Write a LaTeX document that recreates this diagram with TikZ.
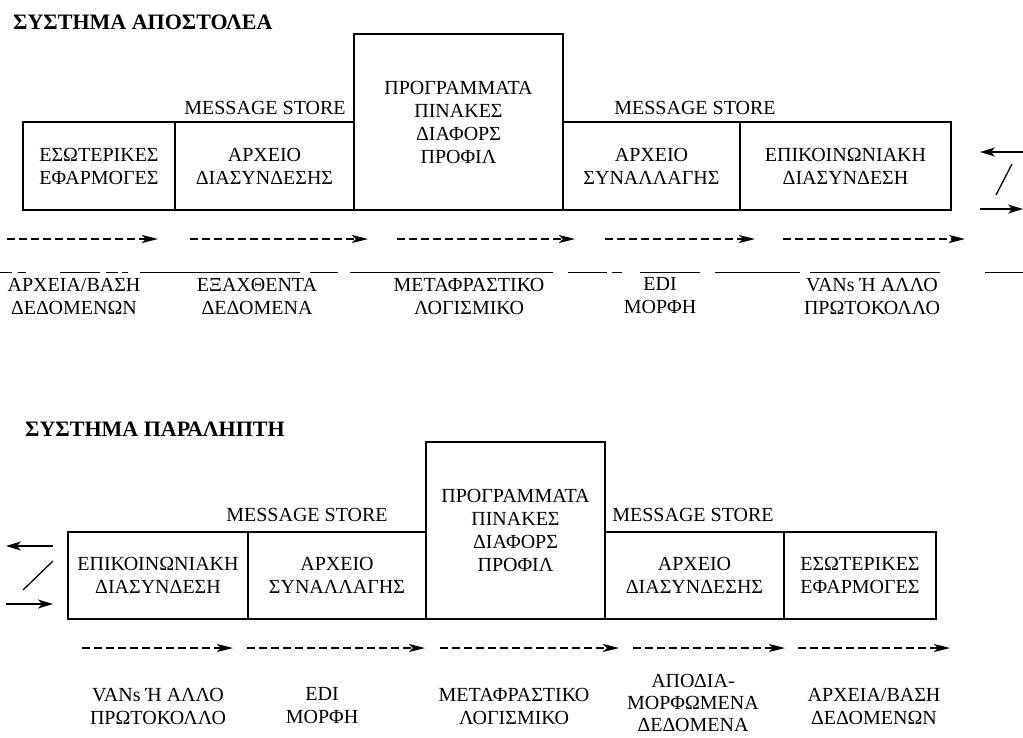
\documentclass[tikz,border=0pt]{standalone}
\usepackage{fontspec}
\setmainfont{Liberation Serif}
\usetikzlibrary{arrows.meta}
\newcommand{\lblfont}{\fontsize{20}{23}\selectfont}
\newcommand{\ttlfont}{\fontsize{22}{26}\selectfont\bfseries}
\begin{document}
\begin{tikzpicture}[x=1pt,y=-1pt,
  block/.style={draw, line width=1.2pt, inner sep=0pt, align=center, font=\lblfont},
  smallblock/.style={block, minimum height=88},
  bigblock/.style={block, minimum height=176},
  caption/.style={inner sep=0pt, align=center, font=\lblfont},
  title/.style={inner sep=0pt, anchor=west, font=\ttlfont},
  flow/.style={line width=1.3pt, dash pattern=on 8pt off 4pt,
    -{Stealth[length=16pt,width=8pt,inset=4pt]}},
  link/.style={line width=1.3pt, -{Stealth[length=15pt,width=9pt,inset=4pt]}},
  rule/.style={line width=1pt, dash pattern=on 12pt off 6pt on 8pt off 34pt
    on 40pt off 6pt on 12pt off 4pt on 6pt off 12pt on 160pt off 10pt
    on 28pt off 12pt on 203pt off 15pt on 39pt off 5pt on 10pt off 18pt
    on 60pt off 15pt on 85pt off 10pt on 130pt off 45pt on 40pt off 10pt}
]
\useasboundingbox (0,0) rectangle (1023,737);

% ---------------- sender ----------------
\node[title] (t1) at (13,22) {ΣΥΣΤΗΜΑ ΑΠΟΣΤΟΛΕΑ};

\node[smallblock, minimum width=152] (s1) at (99,166) {ΕΣΩΤΕΡΙΚΕΣ\\ΕΦΑΡΜΟΓΕΣ};
\node[smallblock, minimum width=179] (s2) at (264.5,166) {ΑΡΧΕΙΟ\\ΔΙΑΣΥΝΔΕΣΗΣ};
\node[bigblock, minimum width=209] (s3) at (458.5,122) {ΠΡΟΓΡΑΜΜΑΤΑ\\ΠΙΝΑΚΕΣ\\ΔΙΑΦΟΡΣ\\ΠΡΟΦΙΛ};
\node[smallblock, minimum width=177] (s4) at (651.5,166) {ΑΡΧΕΙΟ\\ΣΥΝΑΛΛΑΓΗΣ};
\node[smallblock, minimum width=211] (s5) at (845.5,166) {ΕΠΙΚΟΙΝΩΝΙΑΚΗ\\ΔΙΑΣΥΝΔΕΣΗ};

\node[caption] (ms1) at (265,108) {MESSAGE STORE};
\node[caption] (ms2) at (695,108) {MESSAGE STORE};

% network side
\coordinate (na) at (1023,152);
\coordinate (nb) at (980,152);
\coordinate (nc) at (1012,164);
\coordinate (nd) at (996,195);
\coordinate (ne) at (980,209);
\coordinate (nf) at (1023,209);
\draw[link] (na) -- (nb);
\draw[line width=1.3pt] (nc) -- (nd);
\draw[link] (ne) -- (nf);

% data flow
\foreach \a/\b [count=\i] in {7/158, 190/368, 397/575, 605/755, 783/965}{
  \coordinate (fa\i) at (\a,239);
  \coordinate (fb\i) at (\b,239);
  \draw[flow] (fa\i) -- (fb\i);
}
\coordinate (ra) at (0,272.5);
\coordinate (rb) at (1023,272.5);
\draw[rule] (ra) -- (rb);

\node[caption] (c1) at (74,296) {ΑΡΧΕΙΑ/ΒΑΣΗ\\ΔΕΔΟΜΕΝΩΝ};
\node[caption] (c2) at (257,296) {ΕΞΑΧΘΕΝΤΑ\\ΔΕΔΟΜΕΝΑ};
\node[caption] (c3) at (469,296) {ΜΕΤΑΦΡΑΣΤΙΚΟ\\ΛΟΓΙΣΜΙΚΟ};
\node[caption] (c4) at (660,296) {EDI\\ΜΟΡΦΗ};
\node[caption] (c5) at (872,296) {VANs Ή ΑΛΛΟ\\ΠΡΩΤΟΚΟΛΛΟ};

% ---------------- receiver ----------------
\node[title] (t2) at (25,429) {ΣΥΣΤΗΜΑ ΠΑΡΑΛΗΠΤΗ};

\node[smallblock, minimum width=180, minimum height=87] (r1) at (158,575.5) {ΕΠΙΚΟΙΝΩΝΙΑΚΗ\\ΔΙΑΣΥΝΔΕΣΗ};
\node[smallblock, minimum width=178, minimum height=87] (r2) at (337,575.5) {ΑΡΧΕΙΟ\\ΣΥΝΑΛΛΑΓΗΣ};
\node[bigblock, minimum width=179, minimum height=177] (r3) at (515.5,530.5) {ΠΡΟΓΡΑΜΜΑΤΑ\\ΠΙΝΑΚΕΣ\\ΔΙΑΦΟΡΣ\\ΠΡΟΦΙΛ};
\node[smallblock, minimum width=179, minimum height=87] (r4) at (694.5,575.5) {ΑΡΧΕΙΟ\\ΔΙΑΣΥΝΔΕΣΗΣ};
\node[smallblock, minimum width=152, minimum height=87] (r5) at (860,575.5) {ΕΣΩΤΕΡΙΚΕΣ\\ΕΦΑΡΜΟΓΕΣ};

\node[caption] (ms3) at (307,515) {MESSAGE STORE};
\node[caption] (ms4) at (693,515) {MESSAGE STORE};

% network side
\coordinate (ma) at (53,546);
\coordinate (mb) at (6,546);
\coordinate (mc) at (53,561);
\coordinate (md) at (23,590);
\coordinate (me) at (6,604);
\coordinate (mf) at (53,604);
\draw[link] (ma) -- (mb);
\draw[line width=1.3pt] (mc) -- (md);
\draw[link] (me) -- (mf);

% data flow
\foreach \a/\b [count=\i] in {82/233, 247/425, 440/619, 633/785, 798/950}{
  \coordinate (ga\i) at (\a,648);
  \coordinate (gb\i) at (\b,648);
  \draw[flow] (ga\i) -- (gb\i);
}

\node[caption] (d1) at (158,706) {VANs Ή ΑΛΛΟ\\ΠΡΩΤΟΚΟΛΛΟ};
\node[caption] (d2) at (322,706) {EDI\\ΜΟΡΦΗ};
\node[caption] (d3) at (514,706) {ΜΕΤΑΦΡΑΣΤΙΚΟ\\ΛΟΓΙΣΜΙΚΟ};
\node[caption, font=\fontsize{20}{22}\selectfont] (d4) at (693,703) {ΑΠΟΔΙΑ-\\ΜΟΡΦΩΜΕΝΑ\\ΔΕΔΟΜΕΝΑ};
\node[caption] (d5) at (874,706) {ΑΡΧΕΙΑ/ΒΑΣΗ\\ΔΕΔΟΜΕΝΩΝ};
\end{tikzpicture}
\end{document}
